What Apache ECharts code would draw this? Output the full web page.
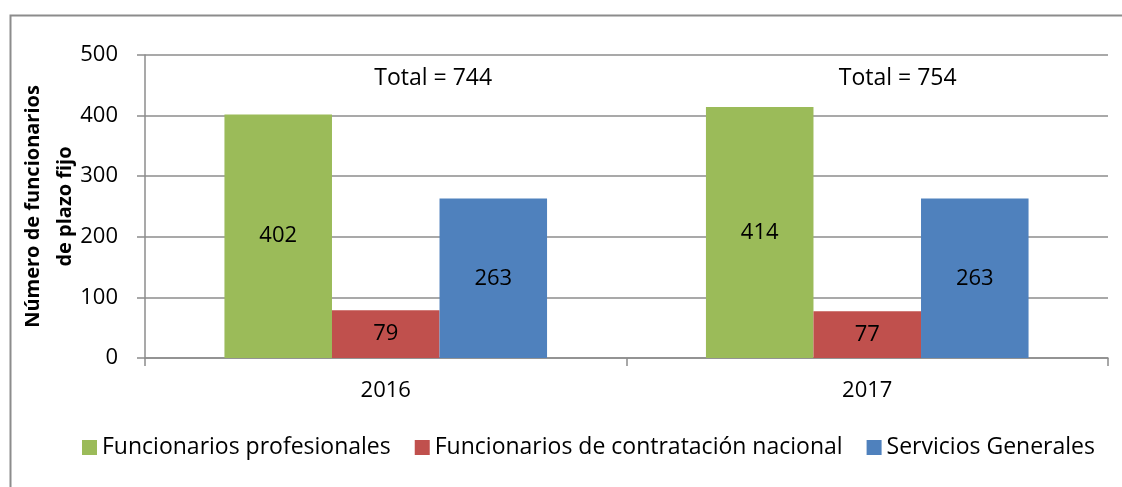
<!DOCTYPE html>
<html>
<head>
<meta charset="utf-8">
<script src="https://cdn.jsdelivr.net/npm/echarts@6/dist/echarts.min.js"></script>
<style>
    html, body { margin: 0; padding: 0; background: #fff; }
    #main { width: 1122px; height: 487px; }
</style>
</head>
<body>
<div id="main"></div>
<script>
// data
const years = ['2016', '2017']
const profesionales = [402, 414]
const nacional = [79, 77]
const generales = [263, 263]
const yTicks = [0, 100, 200, 300, 400, 500]

const seriesNames = [
    'Funcionarios profesionales',
    'Funcionarios de contratación nacional',
    'Servicios Generales',
]

// totals shown above each group
const totals = years.map((y, i) => profesionales[i] + nacional[i] + generales[i])

const FONT = '"Open Sans", sans-serif'
const GRID_COLOR = '#8c8c8c'

function renderChart() {
    var chartDom = document.getElementById('main')
    var myChart = echarts.init(chartDom)

    let barLabel = {
        show: true,
        position: 'inside',
        color: '#000',
        fontFamily: FONT,
        fontSize: 22,
    }

    // the totals sit right of the group centre, not on it
    let totalOffsets = [[155, 0], [138, 0]]

    var option = {
        animation: false,
        backgroundColor: '#fff',
        textStyle: { fontFamily: FONT },
        graphic: [
            {
                type: 'rect',
                left: 8,
                top: 13,
                shape: { width: 1300, height: 700 },
                style: { fill: 'none', stroke: '#8c8c8c', lineWidth: 2 },
                silent: true,
            },
        ],
        grid: {
            left: 145,
            right: 14,
            top: 55,
            bottom: 129,
            containLabel: false,
            outerBoundsMode: 'none',
        },
        legend: {
            bottom: 23,
            left: 77,
            itemWidth: 15,
            itemHeight: 15,
            itemGap: 24,
            icon: 'rect',
            textStyle: {
                fontFamily: FONT,
                fontSize: 23,
                color: '#000',
            },
            data: seriesNames,
        },
        xAxis: {
            type: 'category',
            data: years,
            axisLine: { lineStyle: { color: GRID_COLOR, width: 1.5 } },
            axisTick: { show: true, length: 8, lineStyle: { color: GRID_COLOR, width: 1.5 } },
            axisLabel: {
                color: '#000',
                fontFamily: FONT,
                fontSize: 22,
                margin: 22,
            },
        },
        yAxis: {
            type: 'value',
            min: yTicks[0],
            max: yTicks[yTicks.length - 1],
            interval: 100,
            name: 'Número de funcionarios\nde plazo fijo',
            nameLocation: 'middle',
            nameRotate: 90,
            nameGap: 64,
            nameMoveOverlap: false,
            nameTextStyle: {
                color: '#000',
                fontFamily: FONT,
                fontSize: 20,
                fontWeight: 'bold',
                lineHeight: 32,
            },
            axisLine: { show: true, lineStyle: { color: GRID_COLOR, width: 1.5 } },
            axisTick: { show: true, length: 8, lineStyle: { color: GRID_COLOR, width: 1.5 } },
            axisLabel: {
                color: '#000',
                fontFamily: FONT,
                fontSize: 22,
                margin: 27,
            },
            splitLine: { show: true, lineStyle: { color: GRID_COLOR, width: 1.5 } },
        },
        series: [
            {
                name: seriesNames[0],
                type: 'bar',
                data: profesionales,
                barGap: '0%',
                barCategoryGap: '33%',
                itemStyle: { color: '#9bbb59' },
                label: barLabel,
                markPoint: {
                    symbol: 'rect',
                    symbolSize: 0,
                    label: {
                        show: true,
                        color: '#000',
                        fontFamily: FONT,
                        fontSize: 23,
                        position: 'inside',
                    },
                    data: years.map((y, i) => ({
                        coord: [y, 462],
                        value: 'Total = ' + totals[i],
                        label: { offset: totalOffsets[i], formatter: 'Total = ' + totals[i] },
                    })),
                },
            },
            {
                name: seriesNames[1],
                type: 'bar',
                data: nacional,
                itemStyle: { color: '#c0504d' },
                label: barLabel,
            },
            {
                name: seriesNames[2],
                type: 'bar',
                data: generales,
                itemStyle: { color: '#4f81bd' },
                label: barLabel,
            },
        ],
    }
    option && myChart.setOption(option)
}

renderChart()
</script>
</body>
</html>
